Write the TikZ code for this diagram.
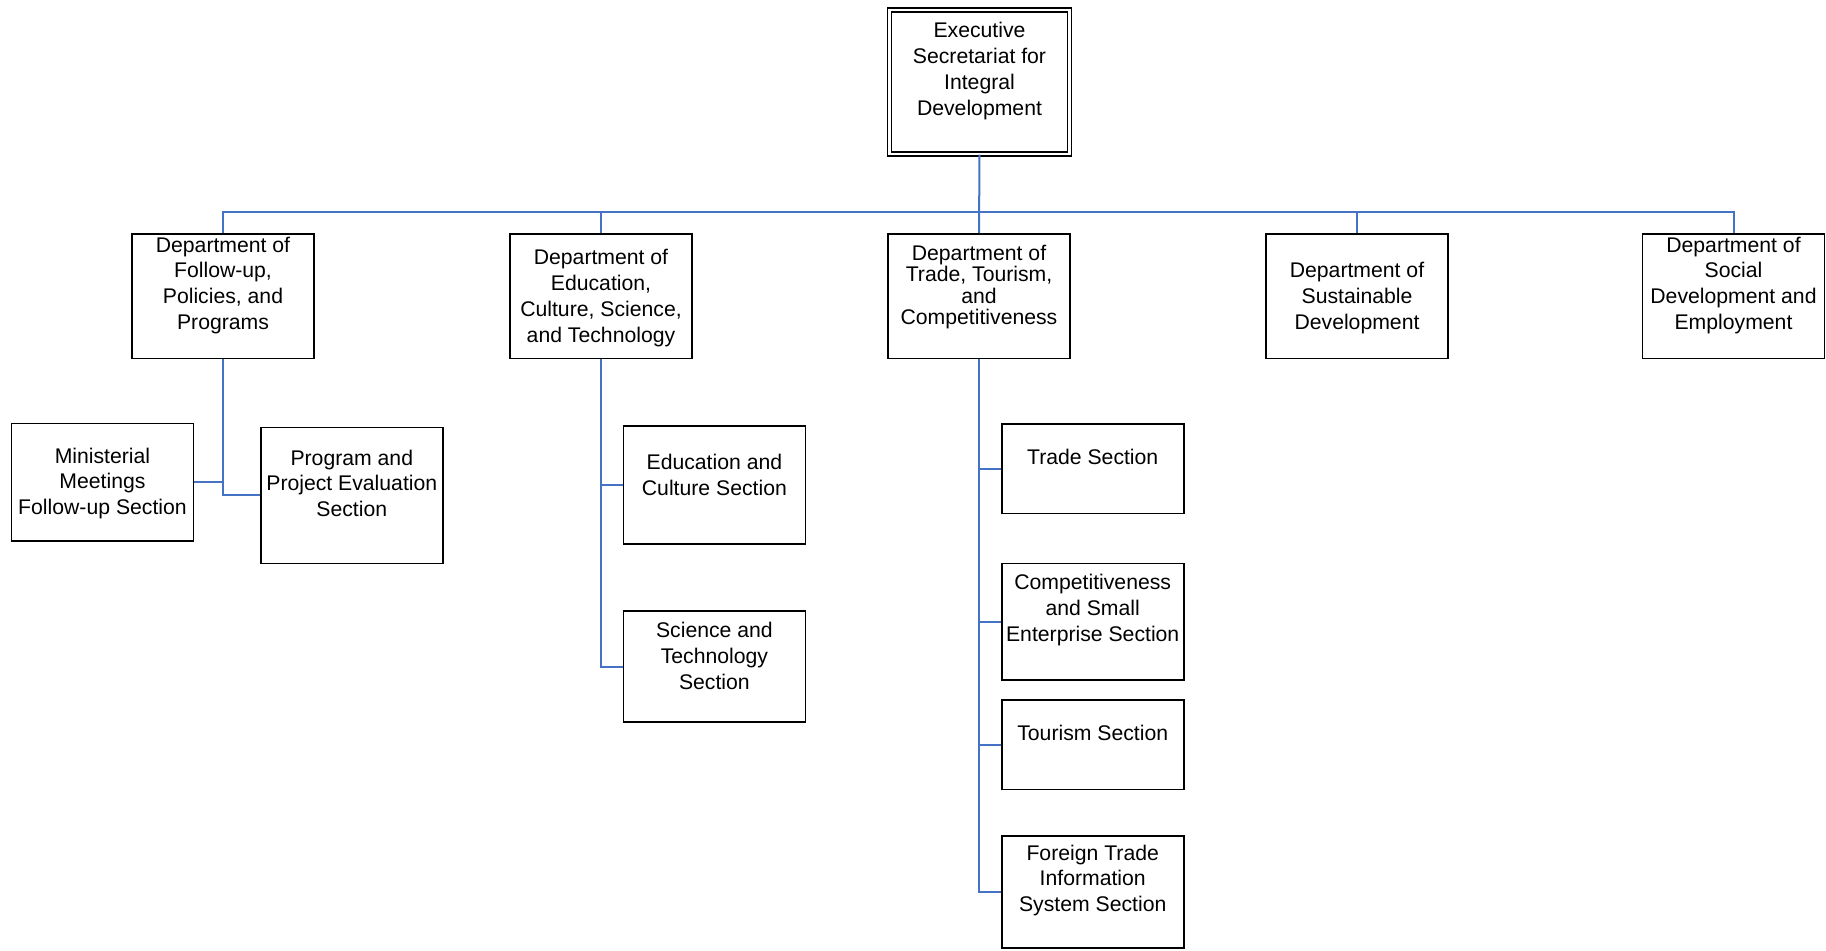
\documentclass[tikz,border=0pt]{standalone}
\usepackage{fontspec}
\setmainfont{Liberation Sans}
\definecolor{linkblue}{RGB}{68,114,196}
\begin{document}
\begin{tikzpicture}[x=0.5pt, y=-0.5pt,
    box/.style={draw, line width=0.8pt, minimum width=91pt, inner sep=0pt},
    txt/.style={align=center, inner sep=0pt, yshift=-1.2pt, font=\fontsize{10.6}{12.9}\selectfont},
    link/.style={draw=linkblue, line width=1pt}]
        \useasboundingbox (0,0) rectangle (1826,950);

        \node[box, double, double distance=1.3pt, minimum width=90pt, minimum height=72pt] (top) at (979.5,81.8) {};
        \node[txt] (topt) at (979.5,68.5) {Executive\\Secretariat for\\Integral\\Development};

        \node[box, minimum height=62.3pt] (d1) at (223,296.3) {};
        \node[box, minimum height=62.3pt] (d2) at (601,296.3) {};
        \node[box, minimum height=62.3pt] (d3) at (979,296.3) {};
        \node[box, minimum height=62.3pt] (d4) at (1357,296.3) {};
        \node[box, minimum height=62.3pt] (d5) at (1733.5,296.3) {};
        \node[txt] (d1t) at (223,283) {Department of\\Follow-up,\\Policies, and\\Programs};
        \node[txt] (d2t) at (601,295.8) {Department of\\Education,\\Culture, Science,\\and Technology};
        \node[txt, font=\fontsize{10.6}{10.8}\selectfont] (d3t) at (979,284.7) {Department of\\Trade, Tourism,\\and\\Competitiveness};
        \node[txt] (d4t) at (1357,295.8) {Department of\\Sustainable\\Development};
        \node[txt] (d5t) at (1733.5,283) {Department of\\Social\\Development and\\Employment};

        \node[box, minimum height=58.7pt] (s11) at (102.5,482) {};
        \node[box, minimum height=68pt] (s12) at (351.8,495.3) {};
        \node[txt] (s11t) at (102.5,481) {Ministerial\\Meetings\\Follow-up Section};
        \node[txt] (s12t) at (351.8,481) {Program and\\Project Evaluation\\Section};

        \node[box, minimum height=59pt] (s21) at (714.4,485) {};
        \node[box, minimum height=55.5pt] (s22) at (714.4,666.5) {};
        \node[txt] (s21t) at (714.4,472.2) {Education and\\Culture Section};
        \node[txt] (s22t) at (714.4,653.3) {Science and\\Technology\\Section};

        \node[box, minimum height=44.8pt] (s31) at (1092.7,468.7) {};
        \node[box, minimum height=58.2pt] (s32) at (1092.7,621.8) {};
        \node[box, minimum height=44.8pt] (s33) at (1092.7,744.7) {};
        \node[box, minimum height=56pt] (s34) at (1092.7,892) {};
        \node[txt] (s31t) at (1092.7,454.2) {Trade Section};
        \node[txt] (s32t) at (1092.7,607.9) {Competitiveness\\and Small\\Enterprise Section};
        \node[txt] (s33t) at (1092.7,730.2) {Tourism Section};
        \node[txt] (s34t) at (1092.7,878) {Foreign Trade\\Information\\System Section};

        \coordinate (bus) at (979,212);
        \draw[link] (top.south) -- (d3.north);
        \draw[link] (d1.north) |- (bus) -| (d5.north);
        \draw[link] (d2.north) -- (d2.north |- bus);
        \draw[link] (d4.north) -- (d4.north |- bus);

        \draw[link] (d1.south) |- (s11.east);
        \draw[link] (d1.south) |- (s12.west);
        \draw[link] (d2.south) |- (s21.west);
        \draw[link] (d2.south) |- (s22.west);
        \draw[link] (d3.south) |- (s31.west);
        \draw[link] (d3.south) |- (s32.west);
        \draw[link] (d3.south) |- (s33.west);
        \draw[link] (d3.south) |- (s34.west);
\end{tikzpicture}
\end{document}
